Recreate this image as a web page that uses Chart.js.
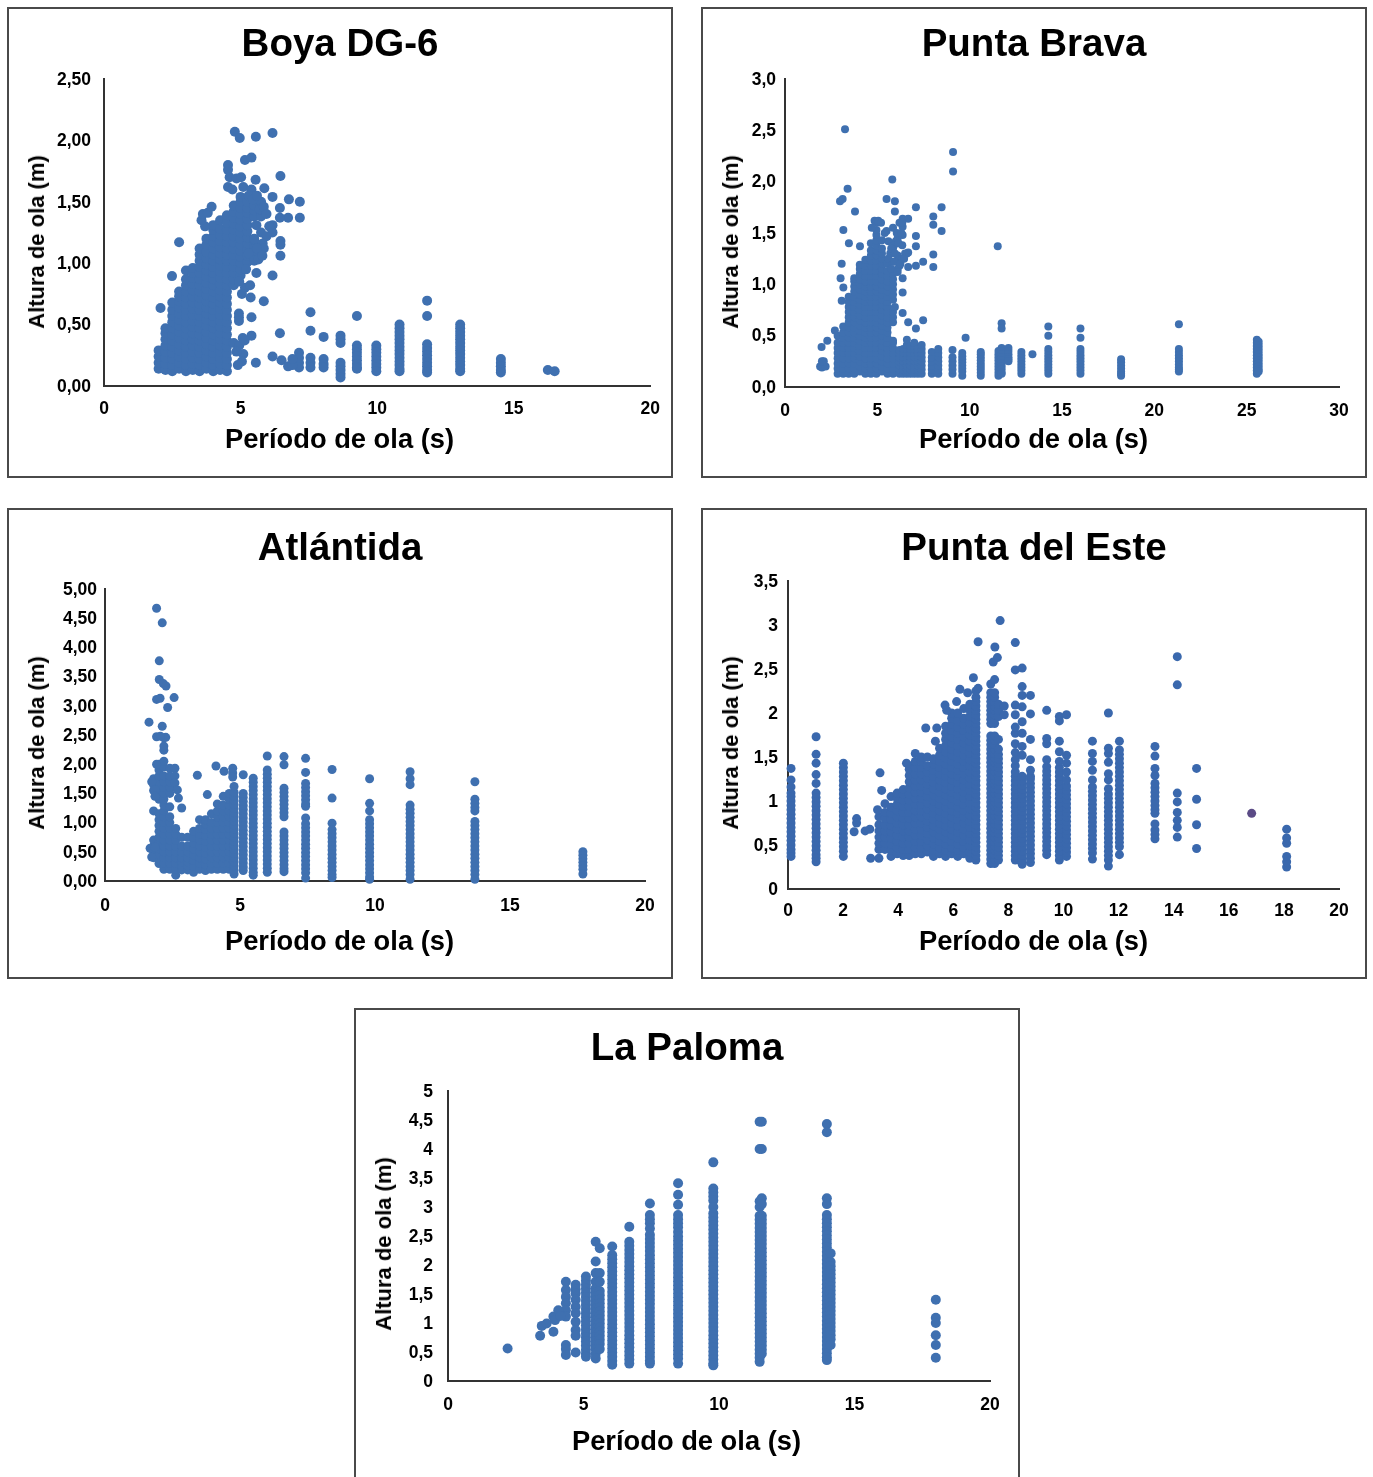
<!DOCTYPE html>
<html>
<head>
<meta charset="utf-8">
<script src="https://cdn.jsdelivr.net/npm/chart.js@4"></script>
<style>
html, body { margin: 0; padding: 0; background: #fff; overflow: hidden; }
body { position: relative; width: 1373px; height: 1477px; }
.panel { position: absolute; outline: 2px solid #4a4a4a; outline-offset: -2px; }
.panel canvas { position: absolute; left: 0; top: 0; }
.axisText { position: absolute; font: bold 27.3px "Liberation Sans"; color: #000; white-space: nowrap; transform: translate(-50%, -50%); }
.axisText.vertical { font-size: 22px; transform: translate(-50%, -50%) rotate(-90deg); }
</style>
</head>
<body>
<script>
// Boya DG-6
const boyaXTicks = ["0", "5", "10", "15", "20"];
const boyaYTicks = ["0,00", "0,50", "1,00", "1,50", "2,00", "2,50"];
const boyaPeriods = [2, 2.25, 2.5, 2.75, 3, 3.25, 3.5, 3.75, 4, 4.25, 4.5, 4.75, 5, 5.25, 5.5, 8.66, 9.26, 9.97, 10.82, 11.83, 13.04, 14.53];
const boyaHeights = [
    [.14, .19, .24, .29],
    [.13, .18, .23, .28, .33, .38, .43, .47],
    [.12, .17, .22, .27, .32, .37, .42, .47, .52, .57, .62, .68],
    [.14, .19, .24, .29, .34, .39, .44, .49, .54, .59, .64, .69, .73, .77],
    [.12, .17, .22, .27, .32, .37, .42, .47, .52, .57, .62, .67, .72, .77, .82, .87, .94],
    [.13, .18, .23, .28, .33, .38, .43, .48, .53, .58, .63, .68, .73, .78, .83, .88, .92, .96],
    [.12, .17, .22, .27, .32, .37, .42, .47, .52, .57, .62, .67, .72, .77, .82, .87, .92, .97, 1.02, 1.07, 1.12],
    [.14, .19, .24, .29, .34, .39, .44, .49, .54, .59, .64, .69, .74, .79, .84, .89, .94, .99, 1.04, 1.09, 1.15, 1.2],
    [.12, .17, .22, .27, .32, .37, .42, .47, .52, .57, .62, .67, .72, .77, .82, .87, .92, .97, 1.02, 1.07, 1.12, 1.17, 1.22, 1.27, 1.31],
    [.13, .18, .23, .28, .33, .38, .43, .48, .53, .58, .63, .68, .73, .78, .83, .88, .93, .98, 1.03, 1.08, 1.13, 1.18, 1.23, 1.28, 1.35],
    [.12, .17, .22, .27, .32, .37, .42, .47, .52, .57, .62, .67, .72, .77, .82, .87, .92, .97, 1.02, 1.07, 1.12, 1.17, 1.22, 1.27, 1.33, 1.39],
    [.82, .87, .92, .97, 1.02, 1.07, 1.12, 1.17, 1.22, 1.27, 1.32, 1.37, 1.42, 1.47],
    [.9, .95, 1, 1.05, 1.1, 1.15, 1.2, 1.25, 1.3, 1.35, 1.4, 1.45, 1.5, 1.54],
    [1.01, 1.06, 1.11, 1.16, 1.21, 1.26, 1.31, 1.36, 1.41, 1.45, 1.5],
    [1.09, 1.14, 1.19, 1.38, 1.43, 1.47],
    [.41, .38, .35, .19, .16, .13, .1, .07],
    [.57, .33, .3, .27, .24, .21, .18, .15, .14],
    [.33, .3, .27, .24, .21, .18, .15, .12],
    [.5, .47, .44, .41, .38, .35, .32, .29, .26, .23, .2, .17, .14, .12],
    [.695, .57, .34, .31, .28, .25, .22, .19, .16, .13, .11],
    [.5, .47, .44, .41, .38, .35, .32, .29, .26, .23, .2, .17, .14, .12],
    [.22, .19, .16, .13, .11]
];
const boyaLoneX = [2.07, 2.49, 2.75, 3.57, 3.62, 3.7, 3.8, 3.94, 4.79, 4.97, 5.56, 6.17, 5.16, 5.4, 4.54, 4.54, 4.6, 4.85, 5.02, 5.1, 5.55, 5.4, 6.46, 4.54, 4.7, 5.87, 6.17, 6.77, 7.17, 7.17, 6.74, 6.44, 6.44, 6.17, 6.17, 6.46, 6.46, 6.46, 5.81, 6.17, 5.58, 5.16, 5.37, 5.85, 4.94, 4.94, 4.94, 5.4, 5.4, 5.08, 6.44, 7.56, 7.56, 8.04, 5.56, 6.17, 6.5, 6.74, 5.5, 5.58, 5.75, 5.75, 5.75, 5.75, 4.75, 4.95, 5.1, 4.85, 5.05, 4.9, 5.15, 7.14, 7.14, 7.14, 7.14, 7.56, 7.56, 7.56, 8.04, 8.04, 8.04, 16.25, 16.5, 6.9, 6.9, 5.3, 5.45, 5.6, 5.7, 5.85, 5.95, 6.05, 5.3, 5.5, 5.65, 5.85, 5.95, 4.95, 5.2, 5.05, 5.35, 5.6, 5.8];
const boyaLoneY = [.635, .895, 1.17, 1.35, 1.4, 1.3, 1.41, 1.46, 2.07, 2.02, 2.03, 2.06, 1.84, 1.86, 1.8, 1.76, 1.7, 1.69, 1.7, 1.62, 1.68, 1.6, 1.71, 1.62, 1.6, 1.61, 1.54, 1.52, 1.5, 1.37, 1.37, 1.45, 1.37, 1.31, 1.25, 1.18, 1.15, 1.06, 1.16, .9, .92, .8, .72, .69, .59, .56, .53, .56, .41, .39, .43, .6, .45, .4, .19, .24, .21, .16, 1.2, 1.31, 1.25, 1.38, 1.44, 1.5, .35, .33, .26, .28, .2, .17, .37, .27, .23, .19, .15, .23, .19, .15, .22, .18, .15, .13, .12, .17, .22, 1.55, 1.52, 1.55, 1.44, 1.46, 1.4, 1.3, 1.08, 1.02, 1.03, 1.12, 1.22, .85, .95, .75, .82, 1.12, 1.06];

// Punta Brava
const bravaXTicks = ["0", "5", "10", "15", "20", "25", "30"];
const bravaYTicks = ["0,0", "0,5", "1,0", "1,5", "2,0", "2,5", "3,0"];
const bravaPeriods = [2.85, 3.15, 3.45, 3.75, 4.05, 4.35, 4.65, 4.95, 5.25, 5.55, 5.85, 6.2, 6.4, 6.6, 6.8, 7, 7.2, 7.4, 7.95, 8.3, 9.07, 9.6, 10.6, 11.56, 11.73, 12.1, 12.8, 14.26, 16, 18.2, 21.33, 25.55, 25.65];
const bravaHeights = [
    [.13, .18, .23, .28, .33, .38, .43, .5],
    [.13, .18, .23, .28, .33, .38, .43, .48, .53, .59],
    [.13, .18, .23, .28, .33, .38, .43, .48, .53, .58, .63, .68, .73, .78, .83, .88],
    [.13, .18, .23, .28, .33, .38, .43, .48, .53, .58, .63, .68, .73, .78, .83, .88, .93, .98, 1.03, 1.06],
    [.15, .2, .25, .3, .35, .4, .45, .5, .55, .6, .65, .7, .75, .8, .85, .9, .95, 1, 1.05, 1.1, 1.15, 1.19],
    [.13, .18, .23, .28, .33, .38, .43, .48, .53, .58, .63, .68, .73, .78, .83, .88, .93, .98, 1.03, 1.08, 1.13, 1.18, 1.24],
    [.13, .18, .23, .28, .33, .38, .43, .48, .53, .58, .63, .68, .73, .78, .83, .88, .93, .98, 1.03, 1.08, 1.13, 1.18, 1.23, 1.28, 1.33, 1.4],
    [.13, .18, .23, .28, .33, .38, .43, .48, .53, .58, .63, .68, .73, .78, .83, .88, .93, .98, 1.03, 1.08, 1.13, 1.18, 1.23, 1.28, 1.33, 1.38, 1.43, 1.48, 1.53, 1.6],
    [.15, .2, .25, .3, .35, .4, .45, .5, .55, .6, .65, .7, .75, .8, .85, .9, .95, 1, 1.05, 1.1, 1.15, 1.2, 1.25, 1.3, 1.35, 1.43],
    [.13, .18, .23, .28, .33, .38, .43, .48, .53, .58, .63, .68, .73, .78, .83, .88, .93, .98, 1.03, 1.08, 1.13, 1.2],
    [.13, .18, .23, .28, .33, .38, .43, .45, .63, .68, .73, .85, .9, .95, 1, 1.05, 1.1],
    [.13, .17, .21, .25, .29, .33, .36],
    [.13, .17, .21, .25, .29, .33, .37],
    [.13, .17, .21, .25, .29, .33, .37, .41, .46],
    [.13, .17, .21, .25, .29, .33, .37, .4],
    [.13, .17, .21, .25, .29, .33, .37, .4, .43],
    [.13, .17, .21, .25, .29, .33, .37],
    [.13, .17, .21, .25, .29, .33, .37, .41],
    [.13, .17, .21, .25, .29, .34],
    [.13, .17, .21, .25, .29, .33, .37],
    [.13, .17, .21, .25, .29, .36],
    [.11, .15, .18, .21, .24, .27, .3, .33],
    [.11, .14, .17, .2, .23, .26, .29, .32, .34],
    [.11, .14, .17, .2, .23, .26, .29, .32, .35],
    [.62, .57, .38, .35, .32, .29, .26, .23, .2, .17, .14, .13],
    [.38, .35, .32, .29, .27, .25],
    [.34, .31, .28, .25, .22, .19, .16, .13],
    [.59, .5, .37, .34, .31, .28, .25, .22, .19, .16, .13],
    [.57, .48, .37, .34, .31, .28, .25, .22, .19, .16, .13],
    [.27, .24, .21, .18, .15, .13, .11],
    [.61, .37, .34, .31, .28, .25, .22, .19, .17, .15],
    [.46, .43, .4, .37, .34, .31, .28, .25, .22, .19, .16, .13],
    [.44, .41, .38, .35, .32, .29, .26, .23, .2, .17, .15]
];
const bravaLoneX = [1.9, 2, 2.1, 2.2, 2, 1.98, 2.29, 3.25, 3.39, 3.12, 2.98, 3.79, 3.16, 3.46, 4.06, 3.07, 3.01, 3.16, 3.07, 2.7, 5.5, 5.95, 5.95, 5.81, 7.09, 6.37, 6.67, 6.37, 6.37, 7.09, 7.09, 6.67, 7.48, 7.09, 6.67, 8.03, 8.03, 8.03, 8.03, 8.48, 8.48, 9.1, 9.1, 6.37, 6.37, 5.95, 6.37, 6.67, 7.09, 7.48, 9.78, 11.52, 13.4, 5.5, 5.85, 6.1, 5.85, 6, 6.2, 6.35, 6.6, 6.1, 6.35, 6.2, 5.8, 6.1, 4.7, 4.85, 5.05, 5.2, 5.4, 5.6, 5.7, 5.9, 6.05, 6.2, 6.35, 5.6, 5.75, 5.95, 6.15, 6.3, 6.5, 5.75, 5.9, 6.1, 6.25, 6.45];
const bravaLoneY = [.2, .19, .25, .2, .25, .39, .45, 2.51, 1.93, 1.83, 1.81, 1.71, 1.53, 1.4, 1.37, 1.2, 1.06, .97, .84, .55, 1.83, 1.81, 1.71, 2.02, 1.75, 1.64, 1.64, 1.56, 1.48, 1.47, 1.37, 1.31, 1.22, 1.18, 1.17, 1.29, 1.17, 1.66, 1.58, 1.75, 1.52, 2.29, 2.1, 1.06, .92, .78, .72, .63, .57, .65, .48, 1.37, .32, 1.52, 1.55, 1.45, 1.35, 1.42, 1.25, 1.38, 1.3, 1.28, 1.25, 1.18, 1.22, 1.15, 1.55, 1.62, 1.62, 1.6, 1.5, 1.42, 1.3, 1.38, 1.5, 1.6, 1.6, 1.25, 1.35, 1.3, 1.4, 1.5, 1.3, 1.15, 1.22, 1.12, 1.2, 1.25];

// Atlántida
const atlantidaXTicks = ["0", "5", "10", "15", "20"];
const atlantidaYTicks = ["0,00", "0,50", "1,00", "1,50", "2,00", "2,50", "3,00", "3,50", "4,00", "4,50", "5,00"];
const atlantidaPeriods = [1.8, 2, 2.18, 2.4, 2.62, 2.84, 3.06, 3.28, 3.5, 3.72, 3.94, 4.16, 4.38, 4.6, 4.78, 5.12, 5.49, 6.01, 6.63, 7.43, 8.41, 9.8, 11.3, 13.7, 17.7];
const atlantidaHeights = [
    [.4, .5, .6, .7, 1.2, 1.55, 1.65, 1.75],
    [.3, .38, .45, .55, .65, .75, .85, .95, 1.05, 1.15, 1.4, 1.5, 1.6, 1.7, 1.8, 1.9, 2],
    [.2, .3, .4, .5, .6, .7, .8, .9, 1, 1.1, 1.2, 1.3, 1.4, 1.5, 1.6, 1.7, 1.8, 1.95, 2.05, 2.24, 2.31, 2.45],
    [.2, .3, .4, .5, .6, .7, .8, .9, 1, 1.1, 1.27, 1.5, 1.6, 1.7, 1.8, 1.93],
    [.1, .2, .3, .4, .5, .6, .7, .8, .9],
    [.19, .26, .33, .4, .5, .6, .75],
    [.19, .26, .33, .4, .5, .6, .75],
    [.15, .25, .35, .45, .55, .65, .75, .85],
    [.2, .3, .4, .5, .6, .7, .8, .9, 1.05],
    [.18, .28, .38, .48, .58, .68, .78, .88, .98, 1.05],
    [.2, .3, .4, .5, .6, .7, .8, .9, 1, 1.15],
    [.2, .3, .4, .5, .6, .7, .8, .9, 1, 1.1, 1.2, 1.32],
    [.2, .3, .4, .5, .6, .7, .8, .9, 1, 1.1, 1.2, 1.3, 1.45],
    [.2, .3, .4, .5, .6, .7, .8, .9, 1, 1.1, 1.2, 1.3, 1.4, 1.5],
    [.12, .19, .26, .33, .4, .47, .54, .61, .68, .75, .82, .89, .96, 1.03, 1.1, 1.17, 1.24, 1.31, 1.38, 1.45, 1.52, 1.62],
    [1.82, 1.5, 1.43, 1.36, 1.29, 1.22, 1.15, 1.08, 1.01, .94, .87, .8, .73, .66, .59, .52, .45, .38, .31, .24, .18],
    [1.76, 1.69, 1.62, 1.55, 1.48, 1.41, 1.34, 1.27, 1.2, 1.13, 1.06, .99, .92, .85, .78, .71, .64, .57, .5, .43, .36, .29, .22, .15, .1],
    [2.14, 1.9, 1.83, 1.76, 1.69, 1.62, 1.55, 1.48, 1.41, 1.34, 1.27, 1.2, 1.13, 1.06, .99, .92, .85, .78, .71, .64, .57, .5, .43, .36, .29, .22, .15],
    [2.13, 1.99, 1.59, 1.52, 1.45, 1.38, 1.31, 1.24, 1.17, 1.1, .84, .77, .7, .63, .56, .49, .42, .35, .28, .21, .16],
    [2.1, 1.86, 1.67, 1.6, 1.53, 1.46, 1.39, 1.32, 1.28, 1.08, .98, .91, .84, .77, .7, .63, .56, .49, .42, .35, .28, .21, .14, .05],
    [1.91, 1.42, .99, .88, .81, .74, .67, .6, .53, .46, .39, .32, .25, .18, .11, .06],
    [1.75, 1.33, 1.2, 1.05, .98, .91, .84, .77, .7, .63, .56, .49, .42, .35, .28, .21, .14, .07, .03],
    [1.87, 1.75, 1.65, 1.3, 1.23, 1.16, 1.09, 1.02, .95, .88, .81, .74, .67, .6, .53, .46, .39, .32, .25, .18, .11, .03],
    [1.7, 1.4, 1.33, 1.26, 1.2, 1.02, .95, .88, .81, .74, .67, .6, .53, .46, .39, .32, .25, .18, .11, .03],
    [.5, .44, .38, .32, .26, .2, .12]
];
const atlantidaLoneX = [1.91, 2.12, 2.01, 2.01, 2.16, 2.26, 1.91, 2.04, 2.56, 2.32, 1.63, 2.12, 1.91, 2.25, 2.05, 1.91, 2.59, 2.59, 2.59, 1.73, 1.85, 1.85, 2.68, 2.72, 2.84, 1.67, 1.73, 1.85, 3.42, 3.79, 4.11, 4.41, 4.73, 4.73, 4.73];
const atlantidaLoneY = [4.67, 4.42, 3.77, 3.45, 3.38, 3.34, 3.11, 3.13, 3.14, 2.97, 2.72, 2.65, 2.47, 2.46, 2.48, 2, 1.93, 1.8, 1.68, 1.7, 1.56, 1.45, 1.56, 1.42, 1.25, .56, .41, .58, 1.81, 1.48, 1.97, 1.88, 1.93, 1.85, 1.78];

// Punta del Este
const esteXTicks = ["0", "2", "4", "6", "8", "10", "12", "14", "16", "18", "20"];
const esteYTicks = ["0", "0,5", "1", "1,5", "2", "2,5", "3", "3,5"];
const estePeriods = [.11, 1.02, 2.01, 3.3, 3.52, 3.74, 3.96, 4.18, 4.4, 4.62, 4.84, 5.06, 5.28, 5.5, 5.72, 5.94, 6.16, 6.38, 6.6, 6.82, 7.36, 7.5, 7.64, 8.25, 8.5, 8.8, 9.39, 9.85, 10.11, 11.05, 11.63, 12.03, 13.32, 14.13, 14.83, 18.1];
const esteHeights = [
    [1.37, 1.24, 1.16, 1.09, 1.05, 1, .95, .9, .85, .8, .75, .7, .65, .6, .55, .5, .45, .41, .37],
    [1.73, 1.53, 1.43, 1.3, 1.2, 1.09, 1.04, .99, .94, .89, .84, .79, .74, .69, .64, .59, .54, .49, .44, .39, .35, .31],
    [1.43, 1.38, 1.33, 1.28, 1.23, 1.18, 1.13, 1.08, 1.03, .98, .93, .88, .83, .78, .73, .68, .63, .58, .53, .48, .43, .37],
    [.45, .52, .59, .66, .73, .82],
    [.45, .52, .59, .66, .73, .8, .87, .97],
    [.37, .44, .51, .58, .65, .72, .79, .86, .93, 1.05],
    [.4, .47, .54, .61, .68, .75, .82, .89, .96, 1.03, 1.09],
    [.38, .45, .52, .59, .66, .73, .8, .87, .94, 1.01, 1.08, 1.13],
    [.38, .45, .52, .59, .66, .73, .8, .87, .94, 1.01, 1.08, 1.15, 1.22, 1.29, 1.36, 1.4],
    [.4, .47, .54, .61, .68, .75, .82, .89, .96, 1.03, 1.1, 1.17, 1.24, 1.31, 1.38, 1.45, 1.54],
    [.4, .47, .54, .61, .68, .75, .82, .89, .96, 1.03, 1.1, 1.17, 1.24, 1.31, 1.38, 1.45, 1.5],
    [.42, .49, .56, .63, .7, .77, .84, .91, .98, 1.05, 1.12, 1.19, 1.26, 1.33, 1.4, 1.5],
    [.37, .44, .51, .58, .65, .72, .79, .86, .93, 1, 1.07, 1.14, 1.21, 1.28, 1.35, 1.42, 1.48],
    [.4, .47, .54, .61, .68, .75, .82, .89, .96, 1.03, 1.1, 1.17, 1.24, 1.31, 1.38, 1.45, 1.52, 1.6],
    [.37, .44, .51, .58, .65, .72, .79, .86, .93, 1, 1.07, 1.14, 1.21, 1.28, 1.35, 1.42, 1.49, 1.56, 1.63, 1.7, 1.77, 1.85],
    [.4, .47, .54, .61, .68, .75, .82, .89, .96, 1.03, 1.1, 1.17, 1.24, 1.31, 1.38, 1.45, 1.52, 1.59, 1.66, 1.73, 1.8, 1.87, 1.94, 2],
    [.37, .44, .51, .58, .65, .72, .79, .86, .93, 1, 1.07, 1.14, 1.21, 1.28, 1.35, 1.42, 1.49, 1.56, 1.63, 1.7, 1.77, 1.84, 1.91, 2],
    [.4, .47, .54, .61, .68, .75, .82, .89, .96, 1.03, 1.1, 1.17, 1.24, 1.31, 1.38, 1.45, 1.52, 1.59, 1.66, 1.73, 1.8, 1.87, 1.94, 2.05],
    [.35, .42, .49, .56, .63, .7, .77, .84, .91, .98, 1.05, 1.12, 1.19, 1.26, 1.33, 1.4, 1.47, 1.54, 1.61, 1.68, 1.75, 1.82, 1.89, 1.96, 2.03, 2.1],
    [.33, .38, .43, .48, .53, .58, .63, .68, .73, .78, .83, .88, .93, .98, 1.03, 1.08, 1.13, 1.18, 1.23, 1.28, 1.33, 1.38, 1.43, 1.48, 1.53, 1.58, 1.63, 1.68, 1.73, 1.78, 1.83, 1.88, 1.93, 1.98, 2.03, 2.08, 2.13, 2.18, 2.25],
    [.29, .34, .39, .44, .49, .54, .59, .64, .69, .74, .79, .84, .89, .94, .99, 1.04, 1.09, 1.14, 1.19, 1.24, 1.29, 1.34, 1.39, 1.44, 1.49, 1.54, 1.59, 1.64, 1.69, 1.74, 1.88, 1.93, 1.98, 2.03, 2.08, 2.13, 2.18, 2.23, 2.33],
    [.29, .34, .39, .44, .49, .54, .59, .64, .69, .74, .79, .84, .89, .94, .99, 1.04, 1.09, 1.14, 1.19, 1.24, 1.29, 1.34, 1.39, 1.44, 1.49, 1.54, 1.59, 1.64, 1.69, 1.74, 1.88, 1.93, 1.98, 2.03, 2.08, 2.13, 2.18, 2.23, 2.38],
    [.33, .38, .43, .48, .53, .58, .63, .68, .73, .78, .83, .88, .93, .98, 1.03, 1.08, 1.13, 1.18, 1.23, 1.28, 1.33, 1.38, 1.43, 1.48, 1.53, 1.59, 1.7, 1.96, 2.03, 2.1],
    [.33, .38, .43, .48, .53, .58, .63, .68, .73, .78, .83, .88, .93, .98, 1.03, 1.08, 1.13, 1.18, 1.23, 1.28, 1.33, 1.4, 1.47, 1.55, 1.65, 1.77, 1.84, 1.98, 2.09],
    [.28, .33, .38, .43, .48, .53, .58, .63, .68, .73, .78, .83, .88, .93, .98, 1.03, 1.08, 1.13, 1.18, 1.23, 1.28, 1.52, 1.62, 1.77, 1.9, 2.07, 2.2, 2.3],
    [.3, .35, .4, .45, .5, .55, .6, .65, .7, .75, .8, .85, .9, .95, 1, 1.05, 1.1, 1.15, 1.2, 1.25, 1.28, 1.35, 1.47, 1.7, 1.99, 2.2],
    [.39, .44, .49, .54, .59, .64, .69, .74, .79, .84, .89, .94, .99, 1.04, 1.09, 1.14, 1.19, 1.24, 1.29, 1.34, 1.39, 1.47, 1.65, 1.71, 2.03],
    [.33, .38, .43, .48, .53, .58, .63, .68, .73, .78, .83, .88, .93, .98, 1.03, 1.08, 1.13, 1.18, 1.23, 1.28, 1.33, 1.38, 1.45, 1.56, 1.68, 1.91, 1.96],
    [.37, .42, .47, .52, .57, .62, .67, .72, .77, .82, .87, .92, .97, 1.02, 1.07, 1.12, 1.17, 1.24, 1.33, 1.43, 1.52, 1.98],
    [.34, .41, .46, .51, .56, .61, .66, .71, .76, .81, .86, .91, .96, 1.01, 1.06, 1.11, 1.16, 1.24, 1.35, 1.45, 1.54, 1.68],
    [.26, .33, .38, .43, .48, .53, .58, .63, .68, .73, .78, .83, .88, .93, .98, 1.03, 1.08, 1.14, 1.24, 1.31, 1.44, 1.54, 1.6, 2],
    [.39, .48, .53, .58, .63, .68, .73, .78, .83, .88, .93, .98, 1.03, 1.08, 1.13, 1.18, 1.23, 1.28, 1.33, 1.38, 1.43, 1.48, 1.53, 1.58, 1.68],
    [.57, .62, .67, .74, .86, .9, .95, 1, 1.05, 1.1, 1.15, 1.2, 1.29, 1.37, 1.51, 1.62],
    [.59, .7, .78, .87, .99, 1.09, 2.32, 2.64],
    [.46, .73, 1.02, 1.37],
    [.25, .31, .37, .52, .58, .68]
];
const esteLoneX = [2.49, 2.49, 2.4, 2.8, 2.97, 3, 3.3, 3.34, 3.4, 3.25, 4.3, 5, 5.4, 5.35, 5.7, 5.76, 6.12, 6.24, 6.52, 6.73, 6.9, 6.9, 7.45, 7.6, 7.51, 7.7, 8.25, 8.25, 8.5, 7.85, 7.85];
const esteLoneY = [.8, .75, .65, .66, .68, .35, .35, 1.32, 1.12, .9, 1.43, 1.83, 1.83, 1.68, 2.09, 2.03, 2.13, 2.27, 2.23, 2.4, 2.28, 2.81, 2.58, 2.63, 2.75, 3.05, 2.8, 2.49, 2.51, 1.98, 2.08];
const esteOddX = [16.83];
const esteOddY = [.86];

// La Paloma
const palomaXTicks = ["0", "5", "10", "15", "20"];
const palomaYTicks = ["0", "0,5", "1", "1,5", "2", "2,5", "3", "3,5", "4", "4,5", "5"];
const palomaPeriods = [4.35, 4.71, 5.09, 5.45, 5.6, 6.06, 6.69, 7.45, 8.49, 9.79, 11.5, 11.58, 13.98, 14.12, 18];
const palomaHeights = [
    [1.71, 1.57, 1.45, 1.34, 1.22, 1.11, .62, .55, .45],
    [1.66, 1.58, 1.51, 1.4, 1.28, 1.17, 1.02, .88, .78, .49],
    [1.8, 1.73, 1.66, 1.59, 1.52, 1.45, 1.38, 1.31, 1.24, 1.17, 1.1, 1.03, .96, .89, .82, .75, .68, .61, .54, .47, .42],
    [2.4, 2.06, 1.86, 1.71, 1.6, 1.53, 1.46, 1.39, 1.32, 1.25, 1.18, 1.11, 1.04, .97, .9, .83, .76, .69, .62, .55, .47, .39],
    [2.29, 1.86, 1.71, 1.55, 1.48, 1.41, 1.34, 1.27, 1.2, 1.13, 1.06, .99, .92, .85, .78, .71, .64, .55],
    [2.32, 2.17, 2.1, 2.03, 1.96, 1.89, 1.82, 1.75, 1.68, 1.61, 1.54, 1.47, 1.4, 1.33, 1.26, 1.19, 1.12, 1.05, .98, .91, .84, .77, .7, .63, .56, .49, .42, .35, .28],
    [2.66, 2.4, 2.33, 2.26, 2.19, 2.12, 2.05, 1.98, 1.91, 1.84, 1.77, 1.7, 1.63, 1.56, 1.49, 1.42, 1.35, 1.28, 1.21, 1.14, 1.07, 1, .93, .86, .79, .72, .65, .58, .51, .44, .37, .3],
    [3.06, 2.86, 2.79, 2.72, 2.63, 2.52, 2.45, 2.38, 2.31, 2.24, 2.17, 2.1, 2.03, 1.96, 1.89, 1.82, 1.75, 1.68, 1.61, 1.54, 1.47, 1.4, 1.33, 1.26, 1.19, 1.12, 1.05, .98, .91, .84, .77, .7, .63, .56, .49, .42, .35, .3],
    [3.41, 3.21, 3.04, 2.86, 2.79, 2.72, 2.65, 2.57, 2.49, 2.42, 2.35, 2.28, 2.21, 2.14, 2.07, 2, 1.93, 1.86, 1.79, 1.72, 1.65, 1.58, 1.51, 1.44, 1.37, 1.3, 1.23, 1.16, 1.09, 1.02, .95, .88, .81, .74, .67, .6, .53, .46, .39, .3],
    [3.77, 3.32, 3.25, 3.18, 3.11, 3, 2.89, 2.82, 2.75, 2.68, 2.61, 2.54, 2.47, 2.4, 2.33, 2.26, 2.19, 2.12, 2.05, 1.98, 1.91, 1.84, 1.77, 1.7, 1.63, 1.56, 1.49, 1.42, 1.35, 1.28, 1.21, 1.14, 1.07, 1, .93, .86, .79, .72, .65, .58, .51, .44, .37, .3, .27],
    [4.47, 4, 3.1, 3, 2.85, 2.78, 2.71, 2.64, 2.57, 2.5, 2.43, 2.36, 2.29, 2.22, 2.15, 2.08, 2.01, 1.94, 1.87, 1.8, 1.73, 1.66, 1.59, 1.52, 1.45, 1.38, 1.31, 1.24, 1.17, 1.1, 1.03, .96, .89, .82, .75, .68, .61, .54, .47, .4, .33],
    [4.47, 4, 3.15, 3.05, 2.85, 2.78, 2.71, 2.64, 2.57, 2.5, 2.43, 2.36, 2.29, 2.22, 2.15, 2.08, 2.01, 1.94, 1.87, 1.8, 1.73, 1.66, 1.59, 1.52, 1.45, 1.38, 1.31, 1.24, 1.17, 1.1, 1.03, .96, .89, .82, .75, .68, .61, .54, .47],
    [4.43, 4.29, 3.15, 3.05, 2.86, 2.79, 2.72, 2.65, 2.58, 2.51, 2.44, 2.37, 2.3, 2.23, 2.16, 2.09, 2.02, 1.95, 1.88, 1.81, 1.74, 1.67, 1.6, 1.53, 1.46, 1.39, 1.32, 1.25, 1.18, 1.11, 1.04, .97, .9, .83, .76, .69, .62, .55, .48, .41, .36],
    [2.2, 2.05, 1.98, 1.91, 1.84, 1.77, 1.7, 1.63, 1.56, 1.49, 1.42, 1.35, 1.28, 1.21, 1.14, 1.07, 1, .93, .86, .79, .72, .62],
    [1.4, 1.09, 1, .79, .62, .4]
];
const palomaLoneX = [2.2, 3.4, 3.46, 3.64, 3.89, 3.89, 4.07, 3.95, 4.15];
const palomaLoneY = [.56, .78, .95, .99, .85, 1.11, 1.22, 1.05, 1.12];

// une columnas y puntos sueltos en una sola lista para Chart.js
function toPoints(periods, heights, loneX, loneY) {
    let points = [];
    periods.forEach(function (period, i) {
        heights[i].forEach(function (height) {
            points.push({ x: period, y: height });
        });
    });
    loneX.forEach(function (x, i) {
        points.push({ x: x, y: loneY[i] });
    });
    return points;
}

function addAxisText(panel, text, x, y, vertical) {
    let element = document.createElement("div");
    element.className = vertical ? "axisText vertical" : "axisText";
    element.textContent = text;
    element.style.left = x + "px";
    element.style.top = y + "px";
    panel.appendChild(element);
}

function createPanel(cfg) {
    let panel = document.createElement("div");
    panel.className = "panel";
    panel.style.left = cfg.left + "px";
    panel.style.top = cfg.top + "px";
    panel.style.width = cfg.width + "px";
    panel.style.height = cfg.height + "px";
    document.body.appendChild(panel);

    let canvas = document.createElement("canvas");
    canvas.width = cfg.width;
    canvas.height = cfg.height;
    panel.appendChild(canvas);

    addAxisText(panel, "Período de ola (s)", cfg.width / 2 - 0.5, cfg.xTitleY, false);
    addAxisText(panel, "Altura de ola (m)", cfg.yTitleX, cfg.yTitleY, true);

    // plot area given in page pixels, turned into panel pixels
    let plotLeft = cfg.plot[0] - cfg.left;
    let plotTop = cfg.plot[1] - cfg.top;
    let plotRight = cfg.plot[2] - cfg.left;
    let plotBottom = cfg.plot[3] - cfg.top;
    let titleTop = cfg.titleY - 23;
    // same margin on both sides so the title stays centred on the panel
    let sideMargin = cfg.width - plotRight;

    let tickFont = { family: "Liberation Sans", size: 17.5, weight: "bold" };
    let datasets = [{
        data: cfg.points,
        backgroundColor: cfg.color,
        borderWidth: 0,
        pointRadius: cfg.radius,
        clip: false
    }];
    if (cfg.oddPoints) {
        datasets.push({
            data: cfg.oddPoints,
            backgroundColor: "#5b4b86",
            borderWidth: 0,
            pointRadius: cfg.radius,
            clip: false
        });
    }

    new Chart(canvas, {
        type: "scatter",
        data: { datasets: datasets },
        options: {
            responsive: false,
            animation: false,
            layout: { padding: { left: sideMargin, right: sideMargin, top: 0, bottom: 0 } },
            plugins: {
                legend: { display: false },
                tooltip: { enabled: false },
                title: {
                    display: true,
                    text: cfg.title,
                    color: "#000",
                    font: { family: "Liberation Sans", size: 38.5, weight: "bold", lineHeight: 1.2 },
                    padding: { top: titleTop, bottom: plotTop - titleTop - 46.2 }
                }
            },
            scales: {
                x: {
                    type: "linear",
                    min: 0,
                    max: cfg.xMax,
                    afterFit: function (scale) { scale.height = cfg.height - plotBottom; },
                    grid: { display: false, drawTicks: false },
                    border: { display: true, color: "#333", width: 2 },
                    ticks: {
                        stepSize: cfg.xStep,
                        autoSkip: false,
                        maxRotation: 0,
                        padding: cfg.xPad,
                        color: "#000",
                        font: tickFont,
                        callback: function (value, index) { return cfg.xTicks[index]; }
                    }
                },
                y: {
                    min: 0,
                    max: cfg.yMax,
                    afterFit: function (scale) { scale.width = plotLeft - sideMargin; },
                    grid: { display: false, drawTicks: false },
                    border: { display: true, color: "#333", width: 2 },
                    ticks: {
                        stepSize: cfg.yStep,
                        autoSkip: false,
                        padding: cfg.yPad,
                        labelOffset: 1,
                        color: "#000",
                        font: tickFont,
                        callback: function (value, index) { return cfg.yTicks[index]; }
                    }
                }
            }
        }
    });
}

createPanel({
    left: 7, top: 7, width: 666, height: 471, title: "Boya DG-6", titleY: 38,
    plot: [104, 79, 651, 386], xMax: 20, xStep: 5, yMax: 2.5, yStep: 0.5,
    xTicks: boyaXTicks, yTicks: boyaYTicks, xPad: 13, yPad: 13,
    xTitleY: 432, yTitleX: 30, yTitleY: 235,
    points: toPoints(boyaPeriods, boyaHeights, boyaLoneX, boyaLoneY), color: "#3f70b0", radius: 5
});
createPanel({
    left: 701, top: 7, width: 666, height: 471, title: "Punta Brava", titleY: 38,
    plot: [785, 79, 1339, 387], xMax: 30, xStep: 5, yMax: 3, yStep: 0.5,
    xTicks: bravaXTicks, yTicks: bravaYTicks, xPad: 14, yPad: 9,
    xTitleY: 432, yTitleX: 30, yTitleY: 235,
    points: toPoints(bravaPeriods, bravaHeights, bravaLoneX, bravaLoneY), color: "#3f70b0", radius: 4
});
createPanel({
    left: 7, top: 508, width: 666, height: 471, title: "Atlántida", titleY: 41,
    plot: [105, 589, 645, 881], xMax: 20, xStep: 5, yMax: 5, yStep: 0.5,
    xTicks: atlantidaXTicks, yTicks: atlantidaYTicks, xPad: 15, yPad: 8,
    xTitleY: 433, yTitleX: 30, yTitleY: 235,
    points: toPoints(atlantidaPeriods, atlantidaHeights, atlantidaLoneX, atlantidaLoneY), color: "#3f70b0", radius: 4.5
});
createPanel({
    left: 701, top: 508, width: 666, height: 471, title: "Punta del Este", titleY: 41,
    plot: [788, 581, 1339, 889], xMax: 20, xStep: 2, yMax: 3.5, yStep: 0.5,
    xTicks: esteXTicks, yTicks: esteYTicks, xPad: 12, yPad: 10,
    xTitleY: 433, yTitleX: 30, yTitleY: 235,
    points: toPoints(estePeriods, esteHeights, esteLoneX, esteLoneY),
    oddPoints: toPoints([], [], esteOddX, esteOddY), color: "#3a68ad", radius: 4.5
});
createPanel({
    left: 354, top: 1008, width: 666, height: 480, title: "La Paloma", titleY: 41,
    plot: [448, 1091, 990, 1381], xMax: 20, xStep: 5, yMax: 5, yStep: 0.5,
    xTicks: palomaXTicks, yTicks: palomaYTicks, xPad: 14, yPad: 15,
    xTitleY: 433, yTitleX: 30, yTitleY: 236,
    points: toPoints(palomaPeriods, palomaHeights, palomaLoneX, palomaLoneY), color: "#3f70b0", radius: 5
});
</script>
</body>
</html>
